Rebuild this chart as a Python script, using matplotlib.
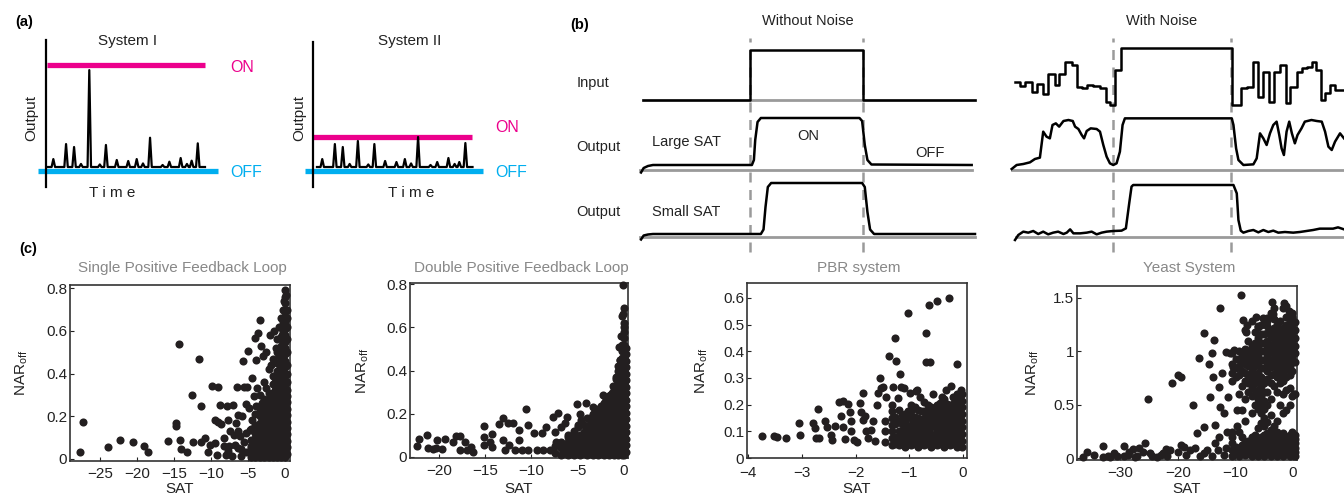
import numpy as np
import matplotlib
matplotlib.use('Agg')
import matplotlib.pyplot as plt
from matplotlib.ticker import FuncFormatter

plt.rcParams['font.family'] = ['Liberation Sans', 'DejaVu Sans']
plt.rcParams['mathtext.default'] = 'regular'

W, H = 1344, 499
PINK = '#EC008C'
BLUE = '#00AEEF'
GREY = '#9A9A9A'
DOT = '#231F20'

# ---------------- panel (a): spike trains ----------------
spike_t = [3.4, 11.5, 16.6, 26.3, 36.9, 43.8, 51.1, 56.5, 65.0, 77.3, 84.5, 91.5, 95.4]
sys1_h = [0.078, 0.225, 0.196, 0.95, 0.216, 0.069, 0.059, 0.078, 0.287, 0.052, 0.088, 0.062, 0.232]
sys2_h = [0.078, 0.225, 0.196, 0.255, 0.225, 0.059, 0.049, 0.078, 0.294, 0.049, 0.088, 0.049, 0.235]
bump_t = [21.0, 33.0, 60.5, 73.0, 88.5]
bump_h = [0.03, 0.025, 0.035, 0.02, 0.03]
sys1_on, sys2_on, off_level = 1.0, 0.294, -0.04

# ---------------- panel (b): switch schematics ----------------
clean_edges = [32.2, 66.4]
noise_edges = [30.1, 65.8]
input_base, large_base, small_base = 3.0, 1.6, 0.26

clean_in_t = [0, 32.2, 32.2, 66.4, 66.4, 100]
clean_in_v = [0, 0, 1, 1, 0, 0]
large_clean_t = [-0.6, 0.2, 1.5, 3, 32.8, 33.4, 33.8, 34.5, 35.5, 65.2, 66.0, 66.8, 67.6, 68.8, 99]
large_clean_v = [-0.05, 0.04, 0.08, 0.1, 0.1, 0.2, 0.6, 0.96, 1.04, 1.04, 0.98, 0.5, 0.2, 0.11, 0.1]
small_clean_t = [-0.6, 0.2, 1.5, 3, 35.5, 36.3, 36.9, 37.6, 38.6, 66.0, 66.8, 67.6, 68.4, 69.6, 100]
small_clean_v = [-0.05, 0.03, 0.05, 0.06, 0.06, 0.15, 0.6, 1.0, 1.08, 1.08, 1.0, 0.5, 0.15, 0.06, 0.06]

noisy_in_t = [0.6, 2.1, 3.6, 5.6, 7.3, 9.1, 10.6, 12.6, 13.9, 15.7, 17.7, 19.4, 20.7, 22.4,
              24.2, 26.2, 28.0, 29.2, 30.7, 32.4, 65.9, 68.6, 70.4, 72.4, 73.9, 75.4, 77.2,
              78.6, 80.4, 82.1, 83.4, 85.4, 86.9, 88.7, 90.0, 91.3, 92.7, 94.0, 95.5, 97.0, 99.7]
noisy_in_v = [0.367, 0.287, 0.367, 0.153, 0.313, 0.113, 0.513, 0.3, 0.513, 0.753, 0.7, 0.267,
              0.233, 0.3, 0.287, 0.233, -0.033, -0.1, 0.6, 1.03, -0.1, 0.233, 0.267, 0.753,
              0.067, 0.567, -0.033, 0.567, 0.7, -0.067, 0.267, 0.567, 0.633, 0.667, 0.767,
              0.6, 0.0, 0.133, 0.3, 0.2, 0.2]
large_noisy_t = [-0.4, 1.1, 3.1, 5.1, 6.6, 8.1, 9.1, 10.1, 11.1, 11.9, 12.9, 13.9, 15.2, 16.7,
                 18.0, 18.7, 19.7, 20.7, 21.4, 22.2, 23.4, 25.2, 26.2, 27.2, 28.2, 29.2, 30.2,
                 31.2, 32.2, 33.0, 33.7, 65.9, 66.4, 67.2, 67.9, 69.4, 72.4, 73.4, 74.4, 75.4,
                 76.4, 77.4, 78.4, 79.4, 80.2, 80.9, 81.6, 82.4, 83.2, 84.0, 84.9, 85.7, 86.9,
                 87.9, 89.9, 91.5, 93.0, 94.0, 95.0, 96.0, 97.0, 98.5, 99.7]
large_noisy_v = [0.02, 0.1, 0.12, 0.153, 0.22, 0.247, 0.767, 0.667, 0.633, 0.9, 0.933, 0.867,
                 0.98, 1.0, 0.98, 0.867, 0.82, 0.7, 0.633, 0.78, 0.833, 0.82, 0.767, 0.5, 0.267,
                 0.133, 0.1, 0.133, 0.367, 0.9, 1.033, 1.033, 0.9, 0.433, 0.2, 0.1, 0.113, 0.233,
                 0.733, 0.633, 0.5, 0.733, 0.9, 0.967, 0.7, 0.433, 0.3, 0.767, 0.967, 0.733,
                 0.533, 0.7, 0.833, 0.967, 1.0, 0.98, 0.967, 0.767, 0.467, 0.4, 0.567, 0.733, 0.633]
small_noisy_t = [0.6, 1.6, 3.1, 4.6, 6.1, 7.6, 9.1, 10.6, 12.1, 13.6, 15.2, 16.2, 17.2, 18.2,
                 20.2, 22.2, 23.7, 25.2, 26.7, 28.2, 30.2, 32.7, 34.0, 35.0, 35.7, 36.2, 66.4,
                 67.4, 67.9, 68.6, 69.4, 70.9, 72.4, 73.9, 75.4, 76.9, 78.4, 79.9, 81.9, 84.4,
                 86.4, 88.4, 90.4, 92.4, 94.4, 96.4, 97.9, 99.7]
small_noisy_v = [-0.06, 0.04, 0.107, 0.087, 0.12, 0.06, 0.107, 0.053, 0.087, 0.107, 0.06, 0.087,
                 0.153, 0.073, 0.073, 0.087, 0.107, 0.053, 0.087, 0.107, 0.12, 0.127, 0.173,
                 0.673, 1.007, 1.04, 1.04, 0.873, 0.34, 0.127, 0.087, 0.12, 0.14, 0.093, 0.14,
                 0.1, 0.127, 0.087, 0.1, 0.087, 0.1, 0.12, 0.14, 0.167, 0.167, 0.167, 0.193, 0.153]

# ---------------- panel (c): SAT vs NAR_off ----------------
# scattered points as (SAT, NAR_off); dense clouds as columns of NAR_off values at one SAT
spfl_pts = [(-27.8, 0.03), (-27.3, 0.175), (-23.9, 0.055), (-22.3, 0.09), (-20.6, 0.078),
            (-19.1, 0.058), (-18.6, 0.03), (-15.8, 0.083), (-14.7, 0.168), (-14.7, 0.155),
            (-14.4, 0.538), (-14.2, 0.09), (-14.0, 0.047), (-13.3, 0.03), (-12.6, 0.298),
            (-12.5, 0.078), (-11.6, 0.47), (-11.4, 0.078), (-11.3, 0.246), (-10.8, 0.1),
            (-10.4, 0.03), (-10.1, 0.067), (-9.8, 0.343), (-9.5, 0.181), (-9.5, 0.075),
            (-9.0, 0.337), (-9.0, 0.172), (-8.8, 0.254), (-8.6, 0.165), (-8.3, 0.059),
            (-7.9, 0.246), (-7.7, 0.181), (-7.4, 0.129), (-7.7, 0.036), (-7.0, 0.254),
            (-6.8, 0.067), (-6.5, 0.337), (-6.4, 0.129), (-6.3, 0.207), (-6.1, 0.106),
            (-5.9, 0.044), (-5.6, 0.457), (-5.5, 0.337), (-5.2, 0.259), (-5.1, 0.337),
            (-5.0, 0.504), (-4.7, 0.137), (-4.5, 0.379), (-4.2, 0.293), (-4.1, 0.566),
            (-3.9, 0.465), (-3.8, 0.332), (-3.6, 0.59), (-3.4, 0.652), (-3.5, 0.215),
            (-3.2, 0.527), (-3.0, 0.48), (-9.2, 0.02), (-8.0, 0.02), (-7.2, 0.015),
            (-6.0, 0.015), (-5.5, 0.08), (-4.8, 0.03), (-6.6, 0.17), (-5.8, 0.2), (-4.4, 0.18),
            (-8.2, 0.1), (-7.6, 0.06), (-6.9, 0.11), (-5.3, 0.12), (-4.9, 0.24), (-3.9, 0.25),
            (-4.6, 0.06), (-5.2, 0.03), (-4.0, 0.1), (-6.4, 0.05), (-4.3, 0.04),
            (-2.6, 0.5), (-2.0, 0.58), (-1.4, 0.6), (-1.9, 0.44), (-1.2, 0.52), (-0.8, 0.62),
            (-0.3, 0.7), (-0.1, 0.74), (0.2, 0.77), (0.3, 0.66), (-0.4, 0.58)]
spfl_cols = [-4.6, -4.0, -3.4, -2.8, -2.2, -1.6, -1.0, -0.5, 0.0,
             -3.7, -3.1, -2.5, -1.9, -1.3, -0.75, -0.25, 0.3]
spfl_col_nar = [
    [0.01, 0.05, 0.09, 0.14],
    [0.01, 0.04, 0.07, 0.12, 0.16, 0.21],
    [0.01, 0.04, 0.07, 0.10, 0.13, 0.17, 0.20, 0.24, 0.30],
    [0.01, 0.04, 0.07, 0.10, 0.13, 0.16, 0.19, 0.22, 0.25, 0.28, 0.36],
    [0.01, 0.04, 0.07, 0.10, 0.13, 0.16, 0.19, 0.22, 0.25, 0.28, 0.31, 0.42],
    [0.01, 0.04, 0.07, 0.10, 0.13, 0.16, 0.19, 0.22, 0.25, 0.28, 0.31, 0.35, 0.39, 0.47],
    [0.01, 0.04, 0.07, 0.10, 0.13, 0.16, 0.19, 0.22, 0.25, 0.28, 0.31, 0.34, 0.37, 0.41,
     0.45, 0.50, 0.56],
    [0.01, 0.04, 0.07, 0.10, 0.13, 0.16, 0.19, 0.22, 0.25, 0.28, 0.31, 0.34, 0.37, 0.40,
     0.43, 0.46, 0.49, 0.53, 0.57, 0.62, 0.66],
    [0.01, 0.04, 0.07, 0.10, 0.13, 0.16, 0.19, 0.22, 0.25, 0.28, 0.31, 0.34, 0.37, 0.40,
     0.43, 0.46, 0.49, 0.52, 0.55, 0.58, 0.61, 0.64, 0.67, 0.70, 0.73, 0.76, 0.79],
    [0.025, 0.06, 0.10, 0.15],
    [0.025, 0.055, 0.085, 0.115, 0.145, 0.19, 0.26],
    [0.025, 0.055, 0.085, 0.115, 0.145, 0.175, 0.205, 0.235, 0.27, 0.33],
    [0.025, 0.055, 0.085, 0.115, 0.145, 0.175, 0.205, 0.235, 0.265, 0.30],
    [0.025, 0.055, 0.085, 0.115, 0.145, 0.175, 0.205, 0.235, 0.265, 0.295, 0.325, 0.36],
    [0.025, 0.055, 0.085, 0.115, 0.145, 0.175, 0.205, 0.235, 0.265, 0.295, 0.325, 0.355,
     0.385, 0.415, 0.445, 0.48],
    [0.025, 0.055, 0.085, 0.115, 0.145, 0.175, 0.205, 0.235, 0.265, 0.295, 0.325, 0.355,
     0.385, 0.415, 0.445, 0.475, 0.505, 0.545, 0.60, 0.64],
    [0.025, 0.055, 0.085, 0.115, 0.145, 0.175, 0.205, 0.235, 0.265, 0.295, 0.325, 0.36,
     0.40, 0.44, 0.50, 0.56, 0.62, 0.70],
]

dpfl_pts = [(-22.3, 0.051), (-22.1, 0.082), (-21.3, 0.1), (-21.2, 0.043), (-20.6, 0.036),
            (-20.3, 0.043), (-20.2, 0.08), (-19.6, 0.036), (-19.3, 0.085), (-18.5, 0.067),
            (-18.1, 0.096), (-17.7, 0.096), (-17.7, 0.031), (-17.2, 0.07), (-17.0, 0.031),
            (-16.5, 0.046), (-16.3, 0.023), (-15.1, 0.144), (-15.1, 0.093), (-15.1, 0.054),
            (-14.5, 0.07), (-14.3, 0.108), (-14.2, 0.046), (-13.5, 0.152), (-13.1, 0.178),
            (-13.1, 0.077), (-12.9, 0.031), (-12.5, 0.158), (-12.4, 0.057), (-12.0, 0.158),
            (-11.8, 0.031), (-11.3, 0.124), (-11.3, 0.077), (-11.0, 0.031), (-10.6, 0.22),
            (-10.4, 0.147), (-10.4, 0.031), (-9.7, 0.111), (-9.4, 0.031), (-8.9, 0.111),
            (-8.7, 0.031), (-8.4, 0.139), (-8.0, 0.031), (-7.7, 0.186), (-7.5, 0.116),
            (-7.3, 0.07), (-7.1, 0.201), (-6.8, 0.139), (-6.4, 0.155), (-6.2, 0.186),
            (-6.1, 0.093), (-5.5, 0.096), (-5.1, 0.245), (-5.0, 0.139), (-4.6, 0.17),
            (-4.1, 0.251), (-3.8, 0.147), (-3.4, 0.232), (-3.2, 0.17), (-2.7, 0.186),
            (-2.3, 0.286), (-1.9, 0.271), (-1.5, 0.286), (-0.1, 0.797), (0.0, 0.69),
            (-0.2, 0.65), (0.05, 0.62), (0.0, 0.6), (-0.3, 0.56), (-0.5, 0.51), (-0.1, 0.66),
            (-0.4, 0.45), (-0.7, 0.42), (-0.9, 0.36), (-1.2, 0.33)]
dpfl_cols = [-7.5, -6.8, -6.1, -5.4, -4.7, -4.0, -3.4, -2.8, -2.2, -1.6, -1.1, -0.6, -0.25, 0.05,
             -6.5, -5.7, -5.0, -4.3, -3.7, -3.1, -2.5, -1.9, -1.35, -0.85, -0.4, 0.25]
dpfl_col_nar = [
    [0.02, 0.05],
    [0.01, 0.04, 0.07],
    [0.01, 0.04, 0.07, 0.10],
    [0.01, 0.04, 0.07, 0.12],
    [0.01, 0.04, 0.07, 0.10, 0.20],
    [0.01, 0.04, 0.07, 0.10, 0.13, 0.18],
    [0.01, 0.04, 0.07, 0.10, 0.13, 0.16, 0.20],
    [0.01, 0.04, 0.07, 0.10, 0.13, 0.16, 0.19, 0.22],
    [0.01, 0.04, 0.07, 0.10, 0.13, 0.16, 0.19, 0.22, 0.25],
    [0.01, 0.04, 0.07, 0.10, 0.13, 0.16, 0.19, 0.22, 0.25, 0.28],
    [0.01, 0.04, 0.07, 0.10, 0.13, 0.16, 0.19, 0.22, 0.25, 0.28, 0.31],
    [0.01, 0.04, 0.07, 0.10, 0.13, 0.16, 0.19, 0.22, 0.25, 0.28, 0.31, 0.34, 0.37, 0.40],
    [0.01, 0.04, 0.07, 0.10, 0.13, 0.16, 0.19, 0.22, 0.25, 0.28, 0.31, 0.34, 0.37, 0.40,
     0.43, 0.46, 0.49, 0.52],
    [0.01, 0.04, 0.07, 0.10, 0.13, 0.16, 0.19, 0.22, 0.25, 0.28, 0.31, 0.34, 0.37, 0.40,
     0.43, 0.46, 0.49, 0.52, 0.55, 0.58],
    [0.025, 0.055],
    [0.025, 0.055, 0.09],
    [0.025, 0.055, 0.085, 0.15],
    [0.025, 0.055, 0.085, 0.115, 0.15],
    [0.025, 0.055, 0.085, 0.115, 0.145, 0.18],
    [0.025, 0.055, 0.085, 0.115, 0.145, 0.175, 0.21],
    [0.025, 0.055, 0.085, 0.115, 0.145, 0.175, 0.205, 0.235],
    [0.025, 0.055, 0.085, 0.115, 0.145, 0.175, 0.205, 0.235, 0.265],
    [0.025, 0.055, 0.085, 0.115, 0.145, 0.175, 0.205, 0.235, 0.265, 0.295],
    [0.025, 0.055, 0.085, 0.115, 0.145, 0.175, 0.205, 0.235, 0.265, 0.295, 0.33, 0.37],
    [0.025, 0.055, 0.085, 0.115, 0.145, 0.175, 0.205, 0.235, 0.265, 0.295, 0.325, 0.355,
     0.385, 0.415, 0.45],
    [0.025, 0.055, 0.085, 0.115, 0.145, 0.175, 0.205, 0.235, 0.265, 0.295, 0.325, 0.355,
     0.385, 0.415, 0.445, 0.475, 0.505],
]

pbr_pts = [(-3.75, 0.081), (-3.52, 0.081), (-3.47, 0.079), (-3.30, 0.075), (-3.05, 0.131),
           (-3.04, 0.088), (-2.79, 0.131), (-2.76, 0.113), (-2.73, 0.075), (-2.68, 0.075),
           (-2.70, 0.184), (-2.57, 0.138), (-2.54, 0.116), (-2.45, 0.088), (-2.43, 0.066),
           (-2.39, 0.119), (-2.31, 0.209), (-2.28, 0.159), (-2.24, 0.214), (-2.23, 0.116),
           (-2.20, 0.071), (-2.14, 0.204), (-2.11, 0.171), (-2.08, 0.138), (-2.08, 0.1),
           (-2.02, 0.066), (-1.98, 0.059), (-1.92, 0.206), (-1.89, 0.171), (-1.87, 0.141),
           (-1.86, 0.244), (-1.83, 0.159), (-1.80, 0.1), (-1.77, 0.075), (-1.72, 0.106),
           (-1.67, 0.138), (-1.63, 0.062), (-1.61, 0.2), (-1.58, 0.244), (-1.55, 0.3),
           (-1.52, 0.262), (-1.48, 0.266), (-1.43, 0.229), (-1.38, 0.384), (-1.33, 0.2),
           (-1.30, 0.266), (-1.27, 0.45), (-1.24, 0.362), (-1.21, 0.225), (-1.18, 0.315),
           (-1.15, 0.266), (-1.09, 0.262), (-1.02, 0.544), (-0.99, 0.244), (-0.87, 0.25),
           (-0.86, 0.256), (-0.69, 0.469), (-0.68, 0.359), (-0.63, 0.575), (-0.61, 0.359),
           (-0.48, 0.59), (-0.26, 0.6), (-0.11, 0.354), (-0.22, 0.269), (-0.31, 0.256),
           (-0.03, 0.256), (-0.8, 0.23), (-0.55, 0.24), (-0.4, 0.23)]
pbr_cols = [-1.45, -1.32, -1.2, -1.08, -0.96, -0.84, -0.72, -0.6, -0.48, -0.36, -0.24, -0.12, -0.02,
            -1.26, -1.14, -1.02, -0.9, -0.78, -0.66, -0.54, -0.42, -0.3, -0.18, -0.06]
pbr_col_nar = [
    [0.06, 0.10, 0.14],
    [0.05, 0.075, 0.10, 0.125, 0.15, 0.175],
    [0.05, 0.075, 0.10, 0.14, 0.18],
    [0.04, 0.065, 0.09, 0.115, 0.14, 0.165],
    [0.05, 0.075, 0.10, 0.125, 0.15, 0.175, 0.20],
    [0.04, 0.065, 0.09, 0.12, 0.15, 0.18],
    [0.05, 0.075, 0.10, 0.125, 0.15, 0.175, 0.21],
    [0.04, 0.065, 0.09, 0.115, 0.14, 0.165, 0.19],
    [0.05, 0.075, 0.10, 0.125, 0.15, 0.175, 0.20],
    [0.04, 0.065, 0.09, 0.115, 0.14, 0.165, 0.19, 0.22],
    [0.05, 0.075, 0.10, 0.125, 0.15, 0.175, 0.20],
    [0.04, 0.065, 0.09, 0.115, 0.14, 0.165, 0.19, 0.215, 0.24],
    [0.04, 0.065, 0.09, 0.115, 0.14, 0.165, 0.19, 0.215, 0.24],
    [0.0525, 0.0775, 0.1275, 0.1525],
    [0.0525, 0.0775, 0.1025, 0.1275, 0.16],
    [0.0525, 0.0775, 0.1025, 0.1525, 0.1775],
    [0.0525, 0.0775, 0.1025, 0.1275, 0.1525, 0.19],
    [0.0525, 0.0775, 0.1025, 0.1275, 0.1775],
    [0.0525, 0.0775, 0.1025, 0.1275, 0.1525, 0.1775, 0.20],
    [0.0525, 0.0775, 0.1275, 0.1525, 0.1775],
    [0.0525, 0.0775, 0.1025, 0.1275, 0.1525, 0.1775, 0.205],
    [0.0525, 0.0775, 0.1025, 0.1275, 0.1525, 0.1775, 0.2025],
    [0.0525, 0.0775, 0.1025, 0.1275, 0.1525, 0.1775, 0.2025, 0.2275],
    [0.0525, 0.0775, 0.1025, 0.1275, 0.1525, 0.1775, 0.2025, 0.2275],
]

yeast_pts = [(-36.5, 0.01), (-35.7, 0.06), (-33.0, 0.115), (-33.0, 0.016), (-31.7, 0.016),
             (-30.5, 0.022), (-29.4, 0.115), (-29.4, 0.022), (-28.4, 0.06), (-27.8, 0.084),
             (-27.4, 0.016), (-26.8, 0.093), (-25.7, 0.14), (-25.1, 0.55), (-24.8, 0.047),
             (-23.6, 0.016), (-22.5, 0.047), (-21.3, 0.078), (-21.0, 0.707), (-19.9, 0.778),
             (-19.5, 0.762), (-19.0, 0.109), (-17.8, 0.078), (-17.3, 0.498), (-16.7, 0.233),
             (-16.4, 0.934), (-15.5, 0.296), (-15.5, 1.173), (-14.9, 0.078), (-14.5, 0.881),
             (-14.4, 0.576), (-14.1, 0.98), (-13.9, 0.762), (-13.7, 1.105), (-13.5, 0.311),
             (-12.9, 0.669), (-12.7, 1.407), (-12.6, 0.482), (-12.3, 0.794), (-12.0, 0.42),
             (-11.6, 0.996), (-11.5, 0.249), (-11.3, 0.576), (-11.0, 0.98), (-10.6, 0.249),
             (-10.4, 0.856), (-10.2, 1.01), (-9.7, 0.451), (-9.1, 1.525), (-8.7, 1.29),
             (-8.0, 1.25), (-8.1, 1.18), (-6.5, 1.32), (-6.1, 1.23), (-5.2, 1.31), (-4.5, 1.28),
             (-3.6, 1.46), (-3.4, 1.35), (-1.6, 1.45), (-0.75, 1.38), (-0.2, 1.32),
             (-12.0, 0.03), (-13.0, 0.08), (-14.0, 0.02), (-15.5, 0.05), (-17.0, 0.1),
             (-18.5, 0.03), (-20.0, 0.06), (-21.8, 0.02), (-16.2, 0.02), (-13.6, 0.14),
             (-11.6, 0.1), (-12.8, 0.2), (-19.5, 0.12), (-23.0, 0.03), (-26.0, 0.06),
             (-28.7, 0.03), (-31.0, 0.05), (-32.2, 0.02), (-34.5, 0.03), (-22.0, 0.09),
             (-24.5, 0.02), (-27.0, 0.02), (-1.2, 0.45), (0.2, 0.6), (-9.8, 0.3), (-8.8, 0.45)]
yeast_cols = [-10.5, -9.4, -8.3, -7.2, -6.1, -5.0, -3.9, -2.8, -1.7, -0.6, 0.3,
              -9.95, -8.85, -7.75, -6.65, -5.55, -4.45, -3.35, -2.25, -1.15, -0.1]
yeast_col_nar = [
    [0.02, 0.08, 0.14, 0.20, 0.72, 0.80, 0.88, 0.98],
    [0.02, 0.07, 0.25, 0.60, 0.78, 0.86, 0.93, 1.00],
    [0.03, 0.09, 0.15, 0.35, 0.55, 0.72, 0.80, 0.88, 0.95, 1.02, 1.20],
    [0.02, 0.07, 0.12, 0.20, 0.42, 0.58, 0.66, 0.75, 0.82, 0.90, 0.98, 1.05, 1.28],
    [0.02, 0.07, 0.12, 0.17, 0.28, 0.46, 0.55, 0.64, 0.72, 0.80, 0.88, 0.96, 1.04, 1.12, 1.24],
    [0.02, 0.06, 0.11, 0.16, 0.22, 0.30, 0.38, 0.46, 0.54, 0.62, 0.70, 0.84, 0.92, 1.00,
     1.08, 1.16, 1.30],
    [0.02, 0.06, 0.10, 0.15, 0.20, 0.26, 0.40, 0.55, 0.70, 0.78, 0.85, 0.92, 0.99, 1.06,
     1.13, 1.20, 1.36],
    [0.02, 0.06, 0.10, 0.15, 0.20, 0.25, 0.35, 0.62, 0.76, 0.83, 0.90, 0.97, 1.04, 1.11,
     1.18, 1.25],
    [0.02, 0.06, 0.10, 0.14, 0.19, 0.24, 0.42, 0.60, 0.72, 0.80, 0.87, 0.94, 1.01, 1.08,
     1.15, 1.22, 1.40],
    [0.02, 0.06, 0.10, 0.14, 0.18, 0.22, 0.50, 0.66, 0.78, 0.86, 0.93, 1.00, 1.07, 1.14,
     1.21, 1.28, 1.34],
    [0.02, 0.06, 0.10, 0.14, 0.18, 0.22, 0.60, 0.90, 0.98, 1.05, 1.12, 1.20, 1.27],
    [0.05, 0.11, 0.76, 0.84, 0.93],
    [0.05, 0.12, 0.20, 0.68, 0.82, 0.90, 0.97],
    [0.04, 0.10, 0.16, 0.62, 0.70, 0.78, 0.86, 0.94, 1.00, 1.10],
    [0.04, 0.10, 0.15, 0.22, 0.50, 0.60, 0.70, 0.78, 0.86, 0.94, 1.01, 1.08, 1.18],
    [0.04, 0.09, 0.14, 0.20, 0.33, 0.42, 0.50, 0.58, 0.68, 0.76, 0.84, 0.92, 1.00, 1.08,
     1.16, 1.25],
    [0.04, 0.08, 0.13, 0.18, 0.24, 0.34, 0.50, 0.62, 0.74, 0.82, 0.89, 0.96, 1.03, 1.10,
     1.17, 1.24, 1.31],
    [0.04, 0.08, 0.12, 0.17, 0.22, 0.30, 0.68, 0.79, 0.87, 0.94, 1.01, 1.08, 1.15, 1.22,
     1.30, 1.40],
    [0.04, 0.08, 0.12, 0.17, 0.22, 0.50, 0.70, 0.78, 0.85, 0.92, 0.99, 1.06, 1.13, 1.20, 1.28],
    [0.04, 0.08, 0.12, 0.16, 0.20, 0.64, 0.76, 0.83, 0.90, 0.97, 1.04, 1.11, 1.18, 1.25,
     1.32, 1.42],
    [0.04, 0.08, 0.12, 0.16, 0.20, 0.25, 0.58, 0.82, 0.94, 1.01, 1.09, 1.16, 1.23, 1.30, 1.36],
]

scatter_titles = ['Single Positive Feedback Loop', 'Double Positive Feedback Loop',
                  'PBR system', 'Yeast System']


def px_axes(x0, y0, x1, y1):
    return fig.add_axes([x0 / W, 1 - y1 / H, (x1 - x0) / W, (y1 - y0) / H])


def ftext(x, y, s, **kw):
    fig.text(x / W, 1 - y / H, s, **kw)


def spike_trace(heights):
    ev = sorted(list(zip(spike_t, heights)) + list(zip(bump_t, bump_h)))
    tt, yy = [0.0], [0.0]
    for tc, h in ev:
        tt += [tc - 1.1, tc, tc + 1.1]
        yy += [0.0, h, 0.0]
    tt.append(100.0)
    yy.append(0.0)
    return tt, yy


fig = plt.figure(figsize=(W / 100, H / 100), dpi=100)

# ---- (a)
for box, heights, on, on_span, off_span, lab_t, on_y in [
        ((46, 40, 262, 187), sys1_h, sys1_on, (-0.6, 100), (-6.4, 108), 116, 0.98),
        ((313, 42, 529, 187), sys2_h, sys2_on, (-2.5, 99.4), (-7.6, 107), 114.6, 0.39)]:
    ax = px_axes(*box)
    x0px = box[0]
    ax.set_xlim(-(2 if x0px == 46 else 4) / 1.57, (box[2] - box[0]) / 1.57 - 2 / 1.57)
    ax.set_ylim(-0.196, (167 - box[1]) / 102)
    for s in ['top', 'right', 'bottom']:
        ax.spines[s].set_visible(False)
    ax.spines['left'].set_linewidth(1.6)
    ax.set_xticks([])
    ax.set_yticks([])
    ax.patch.set_alpha(0)
    ax.hlines(on, *on_span, color=PINK, lw=3.8, clip_on=False)
    ax.hlines(off_level, *off_span, color=BLUE, lw=3.8, clip_on=False, zorder=1)
    tt, yy = spike_trace(heights)
    ax.plot(tt, yy, color='black', lw=1.6, clip_on=False, zorder=3)
    ax.text(lab_t, on_y, 'ON', color=PINK, fontsize=11.5, va='center', clip_on=False)
    ax.text(lab_t, off_level - 0.01, 'OFF', color=BLUE, fontsize=11.5, va='center', clip_on=False)

ftext(24, 22, '(a)', fontsize=10.5, fontweight='bold', ha='center', va='center')
ftext(128, 41, 'System I', fontsize=11, ha='center', va='center', color='#222222')
ftext(410, 41, 'System II', fontsize=11, ha='center', va='center', color='#222222')
ftext(31, 118, 'Output', fontsize=11, rotation=90, ha='center', va='center', color='#222222')
ftext(299, 118, 'Output', fontsize=11, rotation=90, ha='center', va='center', color='#222222')
ftext(112, 193, 'T i m e', fontsize=11, ha='center', va='center', color='#222222')
ftext(411, 193, 'T i m e', fontsize=11, ha='center', va='center', color='#222222')

# ---- (b)
axb1 = px_axes(600, 35, 990, 255)
axb1.set_xlim((600 - 643) / 3.32, (990 - 643) / 3.32)
axb2 = px_axes(1000, 35, 1344, 255)
axb2.set_xlim((1000 - 1013) / 3.32, (1344 - 1013) / 3.32)
for ax, edges in [(axb1, clean_edges), (axb2, noise_edges)]:
    ax.set_ylim(-0.1, 4.3)
    ax.axis('off')
    ax.vlines(edges, -0.04, 4.24, colors=GREY, lw=1.8, linestyles=(0, (4, 3)), zorder=1)

axb1.plot([0, 100], [input_base, input_base], color=GREY, lw=2, zorder=2)
axb1.plot([-0.9, 99], [large_base, large_base], color=GREY, lw=2, zorder=2)
axb1.plot([-0.9, 100], [small_base, small_base], color=GREY, lw=2, zorder=2)
axb1.plot(clean_in_t, np.array(clean_in_v) + input_base, color='black', lw=1.8, zorder=3)
axb1.plot(large_clean_t, np.array(large_clean_v) + large_base, color='black', lw=1.8, zorder=3)
axb1.plot(small_clean_t, np.array(small_clean_v) + small_base, color='black', lw=1.8, zorder=3)

axb2.plot([-0.4, 100], [large_base, large_base], color=GREY, lw=2, zorder=2)
axb2.plot([0.9, 100], [small_base, small_base], color=GREY, lw=2, zorder=2)
axb2.step(noisy_in_t, np.array(noisy_in_v) + input_base, where='post', color='black', lw=1.8, zorder=3)
axb2.plot(large_noisy_t, np.array(large_noisy_v) + large_base, color='black', lw=1.8, zorder=3)
axb2.plot(small_noisy_t, np.array(small_noisy_v) + small_base, color='black', lw=1.8, zorder=3)

ftext(580, 25, '(b)', fontsize=10.5, fontweight='bold', ha='center', va='center')
ftext(808, 21, 'Without Noise', fontsize=10.5, ha='center', va='center', color='#222222')
ftext(1162, 21, 'With Noise', fontsize=10.5, ha='center', va='center', color='#222222')
ftext(593, 83, 'Input', fontsize=10.5, ha='center', va='center', color='#222222')
ftext(598, 147, 'Output', fontsize=10.5, ha='center', va='center', color='#222222')
ftext(598, 212, 'Output', fontsize=10.5, ha='center', va='center', color='#222222')
ftext(652, 142, 'Large SAT', fontsize=10.5, ha='left', va='center', color='#222222')
ftext(652, 212, 'Small SAT', fontsize=10.5, ha='left', va='center', color='#222222')
ftext(808, 136, 'ON', fontsize=10.5, ha='center', va='center', color='#222222')
ftext(930, 153, 'OFF', fontsize=10.5, ha='center', va='center', color='#222222')

# ---- (c)
boxes = [(70, 285, 290, 461), (410, 283, 628, 458), (747, 283, 967, 458), (1077, 286, 1297, 460)]
xlims = [(-29.1, 0.7), (-23.1, 0.43), (-4.02, 0.074), (-37.5, 0.7)]
ylims = [(-0.01, 0.815), (-0.005, 0.805), (0, 0.656), (-0.016, 1.61)]
xticks = [[-25, -20, -15, -10, -5, 0], [-20, -15, -10, -5, 0], [-4, -3, -2, -1, 0], [-30, -20, -10, 0]]
yticks = [[0, 0.2, 0.4, 0.6, 0.8], [0, 0.2, 0.4, 0.6, 0.8],
          [0, 0.1, 0.2, 0.3, 0.4, 0.5, 0.6], [0, 0.5, 1, 1.5]]
ylab_x = [22, 363, 702, 1033]
all_sets = [(spfl_pts, spfl_cols, spfl_col_nar), (dpfl_pts, dpfl_cols, dpfl_col_nar),
            (pbr_pts, pbr_cols, pbr_col_nar), (yeast_pts, yeast_cols, yeast_col_nar)]
fmt = FuncFormatter(lambda v, p: ('%g' % v).replace('-', '\u2212'))

for i, box in enumerate(boxes):
    ax = px_axes(*box)
    pts, cols, col_nar = all_sets[i]
    sat = [p[0] for p in pts]
    nar = [p[1] for p in pts]
    for c, vals in zip(cols, col_nar):
        sat += [c] * len(vals)
        nar += list(vals)
    ax.scatter(sat, nar, s=34, color=DOT, linewidths=0, clip_on=False, zorder=3)
    ax.set_xlim(*xlims[i])
    ax.set_ylim(*ylims[i])
    ax.set_xticks(xticks[i])
    ax.set_yticks(yticks[i])
    ax.xaxis.set_major_formatter(fmt)
    ax.yaxis.set_major_formatter(fmt)
    ax.tick_params(direction='in', length=3, width=0.8, labelsize=11, pad=2, colors='#222222')
    ax.tick_params(axis='x', pad=6 if i == 2 else 4)
    for s in ax.spines.values():
        s.set_linewidth(1.2)
        s.set_color('#333333')
    cx = (box[0] + box[2]) / 2
    ftext(cx + 2, 268, scatter_titles[i], fontsize=11, ha='center', va='center', color='#888888')
    ftext(cx, 489, 'SAT', fontsize=11, ha='center', va='center', color='#222222')
    ftext(ylab_x[i], (box[1] + box[3]) / 2, 'NAR$_{off}$', fontsize=11, rotation=90,
          ha='center', va='center', color='#222222')

ftext(28, 249, '(c)', fontsize=10.5, fontweight='bold', ha='center', va='center')

fig.savefig('out.png', dpi=100)
